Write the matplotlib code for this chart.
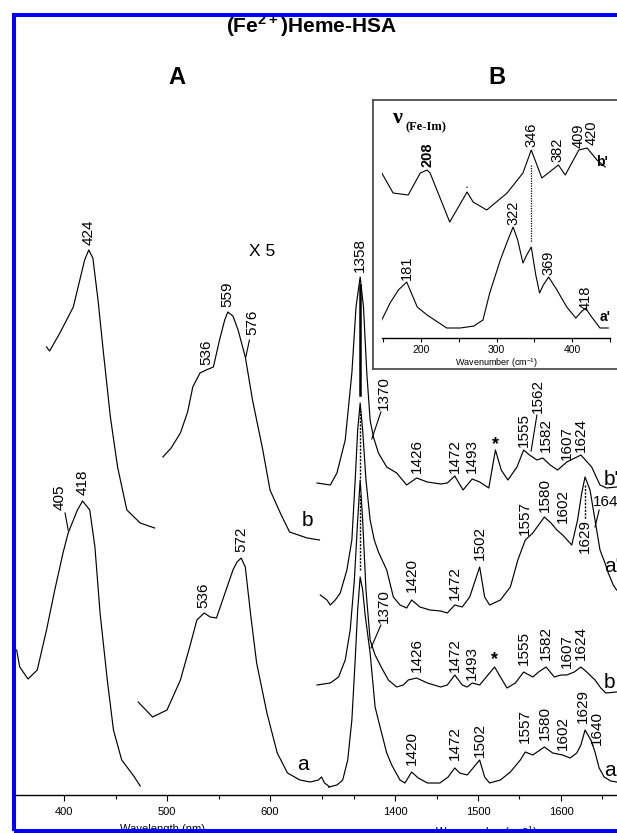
import matplotlib.pyplot as plt

plt.rcParams['font.family'] = ['Liberation Sans', 'DejaVu Sans']
plt.rcParams['mathtext.fontset'] = 'custom'
plt.rcParams['mathtext.rm'] = 'Liberation Sans'
plt.rcParams['mathtext.bf'] = 'Liberation Sans:bold'

# ---- panel A: absorption, wavelength (nm) vs absorbance (a.u.) ----
soret_b_nm = [383, 386, 396, 409, 420, 424, 428, 433, 438, 445, 452, 461, 474, 488]
soret_b_abs = [448, 444, 462, 488, 535, 545, 537, 495, 445, 378, 328, 285, 272, 267]
q_b_nm = [496, 504, 513, 520, 525, 532, 538, 545, 551, 556, 559, 564, 569, 576, 583,
          593, 600, 610, 619, 636, 648]
q_b_abs = [338, 347, 362, 383, 408, 422, 425, 428, 455, 475, 483, 479, 465, 438, 395,
           345, 305, 282, 263, 257, 255]
soret_a_nm = [354, 357, 365, 374, 383, 391, 399, 404, 413, 418, 425, 430, 435, 442,
              448, 456, 467, 474]
soret_a_abs = [145, 128, 116, 125, 165, 205, 242, 262, 285, 294, 285, 248, 182, 115,
               65, 35, 20, 9]
q_a_nm = [472, 486, 500, 513, 522, 529, 536, 542, 548, 555, 564, 568, 572, 576, 581,
          587, 597, 607, 617, 629, 639, 647, 650, 653, 658]
q_a_abs = [93, 78, 85, 115, 148, 175, 182, 178, 177, 198, 225, 233, 237, 228, 182,
           132, 82, 42, 22, 15, 13, 15, 18, 12, 8]

# ---- panel B: resonance Raman, wavenumber (cm-1) vs intensity ----
bp_cm = [1306, 1322, 1330, 1340, 1348, 1353, 1358, 1362, 1366, 1370, 1374, 1380, 1390,
         1402, 1414, 1426, 1439, 1455, 1463, 1472, 1482, 1493, 1502, 1513, 1521, 1528,
         1536, 1547, 1555, 1562, 1571, 1578, 1587, 1596, 1607, 1624, 1637, 1647, 1655, 1667]
bp_int = [2, 0, 12, 45, 112, 178, 208, 178, 112, 65, 48, 32, 18, 12, 0, 7, 3, 1, 2, 9,
          -5, 6, 3, -3, 35, 15, 5, 18, 35, 30, 25, 27, 20, 15, 23, 30, 18, 0, -3, -2]
ap_cm = [1310, 1318, 1322, 1328, 1334, 1342, 1348, 1352, 1355, 1358, 1361, 1365, 1370,
         1375, 1380, 1390, 1398, 1406, 1414, 1420, 1430, 1442, 1455, 1463, 1472, 1481,
         1490, 1502, 1508, 1514, 1527, 1539, 1548, 1557, 1566, 1580, 1588, 1595, 1602,
         1613, 1620, 1625, 1629, 1635, 1640, 1647, 1653, 1657, 1663, 1667]
ap_int = [15, 10, 5, 10, 17, 40, 70, 130, 180, 207, 180, 130, 90, 70, 58, 40, 13, 5, 2,
          10, 3, 0, -1, -3, 5, 3, 13, 43, 13, 5, 10, 23, 50, 70, 77, 93, 87, 80, 75, 65,
          90, 117, 133, 120, 95, 60, 47, 37, 25, 20]
b_cm = [1306, 1322, 1332, 1340, 1346, 1351, 1355, 1358, 1361, 1365, 1370, 1376, 1384,
        1392, 1402, 1410, 1416, 1426, 1439, 1455, 1463, 1472, 1481, 1487, 1493, 1502,
        1510, 1520, 1527, 1535, 1545, 1555, 1566, 1573, 1582, 1592, 1600, 1607, 1616,
        1624, 1631, 1641, 1648, 1654, 1667]
b_int = [0, 2, 8, 25, 55, 105, 165, 205, 165, 95, 45, 30, 17, 5, -2, 0, 5, 7, 2, -2, 0,
         10, 0, -2, 2, 0, 8, 18, 8, -3, 2, 13, 8, 13, 18, 8, 10, 10, 13, 18, 13, 5, -3, -8, -7]
a_cm = [1320, 1330, 1337, 1343, 1348, 1352, 1355, 1358, 1361, 1364, 1370, 1376, 1382,
        1390, 1396, 1406, 1412, 1420, 1428, 1439, 1454, 1464, 1472, 1478, 1487, 1494,
        1502, 1508, 1514, 1527, 1539, 1551, 1557, 1566, 1580, 1590, 1602, 1611, 1619,
        1624, 1629, 1636, 1641, 1646, 1652, 1660, 1667]
a_int = [-4, -2, 3, 23, 63, 123, 173, 206, 193, 168, 130, 76, 56, 30, 18, 3, 0, 11, 5, 0,
         0, 6, 15, 10, 8, 15, 23, 6, 0, 3, 11, 23, 31, 28, 36, 30, 28, 25, 30, 38, 53, 43,
         31, 15, 6, 2, 1]
rr_offset_a, rr_offset_b, rr_offset_ap, rr_offset_bp = 12, 110, 185, 310

# ---- inset: low-frequency region ----
ins_bp_cm = [148, 163, 183, 199, 208, 212, 238, 261, 269, 287, 314, 335, 346, 360, 382,
             391, 409, 420, 433, 444]
ins_bp_int = [165, 145, 143, 165, 168, 165, 116, 146, 136, 128, 145, 165, 188, 160, 173,
              163, 188, 190, 178, 171]
ins_ap_cm = [148, 159, 170, 181, 195, 208, 222, 234, 252, 270, 282, 291, 305, 315, 322,
             328, 335, 340, 346, 352, 357, 362, 369, 380, 393, 405, 412, 418, 425, 437, 448]
ins_ap_int = [18, 35, 48, 56, 31, 23, 16, 10, 10, 12, 18, 45, 78, 98, 111, 98, 75, 83,
              91, 63, 45, 53, 61, 48, 31, 20, 26, 30, 22, 10, 10]

# peak labels: (text, position, label base height)
labels_A = [('424', 424, 550), ('559', 559, 488), ('536', 538, 430),
            ('418', 418, 300), ('572', 572, 243), ('536', 535, 187)]
labels_bp = [('1358', 1358, 523), ('1426', 1426, 322), ('1472', 1472, 322),
             ('1493', 1493, 322), ('1555', 1555, 348), ('1582', 1582, 343),
             ('1607', 1607, 335), ('1624', 1624, 343)]
labels_ap = [('1420', 1420, 203), ('1472', 1472, 195), ('1502', 1502, 235),
             ('1557', 1557, 260), ('1580', 1580, 283), ('1602', 1602, 272),
             ('1629', 1629, 242)]
labels_b = [('1426', 1426, 123), ('1472', 1472, 123), ('1493', 1493, 115),
            ('1555', 1555, 130), ('1582', 1582, 135), ('1607', 1607, 127),
            ('1624', 1624, 135)]
labels_a = [('1420', 1420, 30), ('1472', 1472, 35), ('1502', 1502, 38),
            ('1557', 1557, 52), ('1580', 1580, 55), ('1602', 1602, 45),
            ('1629', 1626, 72), ('1640', 1643, 50)]
labels_ins_bp = [('346', 346, 191), ('382', 381, 176), ('409', 409, 190), ('420', 426, 193)]
labels_ins_ap = [('181', 181, 58), ('322', 322, 113), ('369', 369, 63), ('418', 418, 28)]

W, H = 617, 833


def box(x0, y0, x1, y1):
    return [x0 / W, 1 - y1 / H, (x1 - x0) / W, (y1 - y0) / H]


def put_labels(ax, items, size=11, **kw):
    for txt, x, y in items:
        ax.text(x, y, txt, rotation=90, ha='center', va='bottom', fontsize=size, **kw)


fig = plt.figure(figsize=(W / 100, H / 100), dpi=100)
lw = 0.85

# panel A
axA = fig.add_axes(box(15, 17, 617, 795))
axA.set_xlim(352.4, 936.9)
axA.set_ylim(0, 778)
for s in ('top', 'left', 'right'):
    axA.spines[s].set_visible(False)
axA.spines['bottom'].set_linewidth(1.0)
axA.set_yticks([])
axA.set_xticks([400, 500, 600])
axA.set_xticks([450, 550, 650], minor=True)
axA.tick_params(axis='x', which='major', length=4.5, width=0.8, labelsize=8, pad=4)
axA.tick_params(axis='x', which='minor', length=3, width=0.8)
for xs, ys in ((soret_b_nm, soret_b_abs), (q_b_nm, q_b_abs),
               (soret_a_nm, soret_a_abs), (q_a_nm, q_a_abs)):
    axA.plot(xs, ys, color='black', lw=lw)
put_labels(axA, labels_A)
axA.text(583, 460, '576', rotation=90, ha='center', va='bottom', fontsize=11)
axA.plot([580, 576.5], [455, 438], color='black', lw=0.8)
axA.text(396, 285, '405', rotation=90, ha='center', va='bottom', fontsize=11)
axA.plot([401, 404], [282, 265], color='black', lw=0.8)
axA.text(592, 543, 'X 5', ha='center', va='center', fontsize=12.5)
axA.text(636, 275, 'b', ha='center', va='center', fontsize=15)
axA.text(632, 30, 'a', ha='center', va='center', fontsize=15)

# panel B
axB = fig.add_axes(box(300, 17, 617, 795))
axB.patch.set_visible(False)
for s in axB.spines.values():
    s.set_visible(False)
axB.set_xlim(1285.5, 1667.5)
axB.set_ylim(0, 778)
axB.set_yticks([])
axB.set_xticks([1400, 1500, 1600])
axB.set_xticks([1350, 1450, 1550, 1650], minor=True)
axB.tick_params(axis='x', which='major', length=4.5, width=0.8, labelsize=8, pad=4)
axB.tick_params(axis='x', which='minor', length=3, width=0.8)
for xs, ys, off in ((bp_cm, bp_int, rr_offset_bp), (ap_cm, ap_int, rr_offset_ap),
                    (b_cm, b_int, rr_offset_b), (a_cm, a_int, rr_offset_a)):
    axB.plot(xs, [v + off for v in ys], color='black', lw=lw)

put_labels(axB, labels_bp)
put_labels(axB, labels_ap)
put_labels(axB, labels_b)
put_labels(axB, labels_a)
# leader-line labels
axB.text(1386, 385, '1370', rotation=90, ha='center', va='bottom', fontsize=11)
axB.plot([1383, 1372], [383, 356], color='black', lw=0.8)
axB.text(1572, 382, '1562', rotation=90, ha='center', va='bottom', fontsize=11)
axB.plot([1571, 1564], [380, 344], color='black', lw=0.8)
axB.text(1386, 172, '1370', rotation=90, ha='center', va='bottom', fontsize=11)
axB.plot([1383, 1371], [170, 147], color='black', lw=0.8)
axB.text(1639, 289, '1640', ha='left', va='baseline', fontsize=11)
axB.plot([1646, 1641], [285, 268], color='black', lw=0.8)
axB.text(1521, 350, '*', ha='center', va='center', fontsize=13, weight='bold')
axB.text(1520, 135, '*', ha='center', va='center', fontsize=13, weight='bold')
# marker lines through the 1358 and 1629 bands
axB.plot([1358, 1358], [510, 400], color='black', lw=1.8)
axB.plot([1358, 1358], [385, 315], color='black', lw=1.0, ls=(0, (1.5, 1)))
axB.plot([1358, 1358], [300, 225], color='black', lw=1.0, ls=(0, (1.5, 1)))
axB.plot([1629, 1629], [310, 276], color='black', lw=1.0, ls=(0, (1.5, 1)))
for txt, y in (("b'", 315), ("a'", 228), ('b', 113), ('a', 24)):
    axB.text(1652, y, txt, ha='left', va='center', fontsize=15)

# inset frame
frame = fig.add_axes(box(373, 100, 660, 369))
frame.set_xticks([])
frame.set_yticks([])
for s in frame.spines.values():
    s.set_color('0.3')
    s.set_linewidth(1.3)

ins = fig.add_axes(box(382, 105, 610, 338))
ins.patch.set_visible(False)
for s in ('top', 'left', 'right'):
    ins.spines[s].set_visible(False)
ins.spines['bottom'].set_linewidth(1.0)
ins.set_xlim(148.3, 450.3)
ins.set_ylim(0, 233)
ins.set_yticks([])
ins.set_xticks([200, 300, 400])
ins.set_xticks([150, 250, 350, 450], minor=True)
ins.tick_params(axis='x', which='both', length=3, width=0.8, labelsize=7.5, pad=2)
ins.set_xlabel('Wavenumber (cm$^{-1}$)', fontsize=6.5, labelpad=1)
ins.plot(ins_bp_cm, ins_bp_int, color='black', lw=0.8)
ins.plot(ins_ap_cm, ins_ap_int, color='black', lw=0.8)
ins.plot([346, 346], [173, 96], color='black', lw=0.9, ls=(0, (1, 1)))
ins.text(208, 171, '208', rotation=90, ha='center', va='bottom', fontsize=10.5, weight='bold')
put_labels(ins, labels_ins_bp, size=10.5)
put_labels(ins, labels_ins_ap, size=10.5)
ins.text(261, 150, '•', ha='center', va='center', fontsize=4)
ins.text(432, 176, "b'", ha='left', va='center', fontsize=10, weight='bold')
ins.text(437, 21, "a'", ha='left', va='center', fontsize=10, weight='bold')
ins.text(163, 220, 'ν', ha='left', va='center', fontsize=16, weight='bold',
         family=['Liberation Serif', 'DejaVu Serif'])
ins.text(180, 211, '(Fe-Im)', ha='left', va='center', fontsize=9, weight='bold',
         family=['Liberation Serif', 'DejaVu Serif'])

# titles and axis captions
fig.text(311 / W, 1 - 26 / H, r'(Fe$^{\mathbf{2+}}$)Heme-HSA', ha='center', va='center',
         fontsize=15, weight='bold')
fig.text(177 / W, 1 - 78 / H, 'A', ha='center', va='center', fontsize=17, weight='bold')
fig.text(497 / W, 1 - 78 / H, 'B', ha='center', va='center', fontsize=17, weight='bold')
fig.text(163 / W, 1 - 824 / H, 'Wavelength (nm)', ha='center', va='top', fontsize=8)
fig.text(486 / W, 1 - 824 / H, 'Wavenumber (cm$^{-1}$)', ha='center', va='top', fontsize=8)

# blue outer border
fig.patches.append(plt.Rectangle((14 / W, 2 / H), 1.2, (831 - 14.5) / H,
                                 transform=fig.transFigure, fill=False,
                                 edgecolor='#0000ff', lw=2.9, zorder=10))

fig.savefig('out.png', dpi=100)
